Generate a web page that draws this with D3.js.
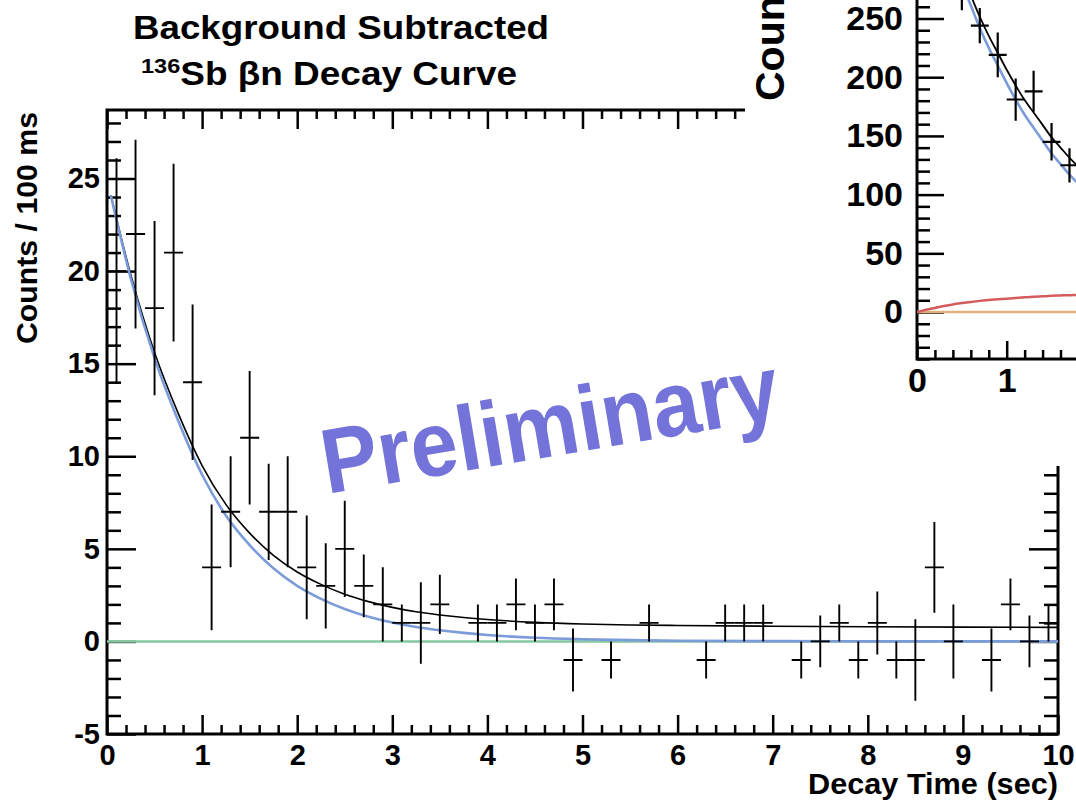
<!DOCTYPE html>
<meta charset="utf-8">
<style>
    body { margin: 0; background: #fff; }
    svg text { font-family: "Liberation Sans", Arial, Helvetica, sans-serif; font-weight: bold; fill: #000; }
    .axis path.domain { display: none; }
    .axis line { stroke: #000; stroke-width: 2.5px; }
    .axis text { font-size: 29px; }
    .inset .axis text { font-size: 34px; }
    .frame { fill: none; stroke: #000; stroke-width: 3px; }
    .err { stroke: #000; stroke-width: 1.9px; fill: none; }
    .fit { fill: none; }
</style>
<svg width="1076" height="800"></svg>
<script src="https://d3js.org/d3.v7.min.js"></script>
<script>

    // main histogram: background subtracted counts per 200 ms bin
    var binTime = [0.1, 0.3, 0.5, 0.7, 0.9, 1.1, 1.3, 1.5, 1.7, 1.9,
                   2.1, 2.3, 2.5, 2.7, 2.9, 3.1, 3.3, 3.5, 3.7, 3.9,
                   4.1, 4.3, 4.5, 4.7, 4.9, 5.1, 5.3, 5.5, 5.7, 5.9,
                   6.1, 6.3, 6.5, 6.7, 6.9, 7.1, 7.3, 7.5, 7.7, 7.9,
                   8.1, 8.3, 8.5, 8.7, 8.9, 9.1, 9.3, 9.5, 9.7, 9.9];
    var binCounts = [20, 22, 18, 21, 14, 4, 7, 11, 7, 7,
                     4, 3, 5, 3, 2, 1, 1, 2, 0, 1,
                     1, 2, 1, 2, -1, 0, -1, 0, 1, 0,
                     0, -1, 1, 1, 1, 0, -1, 0, 1, -1,
                     1, -1, -1, 4, 0, 0, -1, 2, 0, 1];
    var binErrors = [6.1, 5.1, 4.7, 4.8, 4.2, 3.4, 3.0, 3.6, 2.6, 3.0,
                     2.8, 2.3, 2.6, 1.7, 2.0, 1.0, 2.2, 1.6, 0, 1.0,
                     1.0, 1.4, 1.0, 1.4, 1.7, 0, 1.0, 0, 1.0, 0,
                     0, 1.0, 1.0, 1.0, 1.0, 0, 1.0, 1.4, 1.0, 1.0,
                     1.7, 1.0, 2.2, 2.45, 2.0, 0, 1.7, 1.4, 1.4, 1.0];

    // fit curves
    var fitTime = [0.04, 0.25, 0.5, 0.75, 1, 1.25, 1.5, 1.75, 2, 2.25, 2.5, 2.75, 3,
                   3.25, 3.5, 3.75, 4, 4.5, 5, 5.5, 6, 7, 8, 9, 10];
    var totalFit = [24.1, 19.8, 15.6, 12.3, 9.5, 7.4, 5.85, 4.65, 3.75, 3.08, 2.55, 2.15, 1.84,
                    1.6, 1.43, 1.29, 1.18, 1.03, 0.94, 0.89, 0.86, 0.82, 0.79, 0.77, 0.76];
    var parentFit = [24.1, 19.6, 15.3, 11.9, 9.0, 6.8, 5.2, 3.95, 3.0, 2.3, 1.75, 1.33, 1.02,
                     0.78, 0.6, 0.46, 0.35, 0.2, 0.12, 0.07, 0.04, 0.015, 0.005, 0.002, 0];
    var bgTime = [0, 10];
    var bgFit = [0, 0];

    var xMajor = [0, 1, 2, 3, 4, 5, 6, 7, 8, 9, 10];
    var yMajor = [-5, 0, 5, 10, 15, 20, 25];

    // inset (without subtraction)
    var insetTime = [0.5, 0.7, 0.9, 1.1, 1.3, 1.5, 1.7];
    var insetCounts = [277, 244, 219, 181, 188, 145, 125];
    var insetErrors = [20, 15, 19, 18, 17.5, 16, 14.6];
    var insetFitTime = [0, 0.1, 0.2, 0.3, 0.4, 0.5, 0.6, 0.7, 0.8, 0.9, 1.0,
                        1.1, 1.2, 1.3, 1.4, 1.5, 1.6, 1.7, 1.8, 1.9, 2.0];
    var insetTotal = [402, 375.9, 351.5, 329.1, 307.5, 287.6, 269.6, 251.5, 235.2, 220.8, 206.4,
                      193, 180.5, 170, 159.4, 148.8, 140.1, 131.4, 123.6, 115.8, 109];
    var insetParent = [402, 374, 348, 324, 301, 280, 261, 242, 225, 210, 195,
                       181, 168, 157, 146, 135, 126, 117, 109, 101, 94];
    var insetDaughter = [0, 1.9, 3.5, 5.1, 6.5, 7.6, 8.6, 9.5, 10.2, 10.8, 11.4,
                         12.0, 12.5, 13.0, 13.4, 13.8, 14.1, 14.4, 14.6, 14.8, 15.0];
    var insetBgTime = [0, 2];
    var insetBg = [0, 0];
    var insetXMajor = [0, 1, 2];
    var insetYMajor = [0, 50, 100, 150, 200, 250, 300];

    var svg = d3.select("svg");

    var x = d3.scaleLinear().domain([0, 10]).range([107, 1058]),
        y = d3.scaleLinear().domain([-5, 28.7]).range([734, 110]);

    var binW = 0.2;
    var plain = function(d) { return String(d); };   // ROOT style "-5", not a unicode minus

    svg.append("defs").append("clipPath").attr("id", "mainclip")
        .append("rect").attr("x", 107).attr("y", 110).attr("width", 951).attr("height", 624);

    // ---- main frame and axes
    function minorTicks(lo, hi, step, skip) {
        return d3.range(lo, hi + step / 2, step)
            .map(function(v) { return Math.round(v * 1000) / 1000; })
            .filter(function(v) { return skip.indexOf(v) < 0; });
    }
    var xMinor = minorTicks(0, 10, 0.2, xMajor),
        yMinor = minorTicks(-5, 28, 1, yMajor);

    var gx = svg.append("g").attr("class", "axis").attr("transform", "translate(0,734)");
    gx.call(d3.axisBottom(x).tickValues(xMajor).tickSize(-19).tickPadding(10).tickFormat(plain));
    gx.append("g").call(d3.axisBottom(x).tickValues(xMinor).tickSize(-9).tickFormat(""));

    var gxt = svg.append("g").attr("class", "axis").attr("transform", "translate(0,110)");
    gxt.call(d3.axisTop(x).tickValues(xMajor).tickSize(-19).tickFormat(""));
    gxt.append("g").call(d3.axisTop(x).tickValues(xMinor).tickSize(-9).tickFormat(""));

    var gy = svg.append("g").attr("class", "axis").attr("transform", "translate(107,0)");
    gy.call(d3.axisLeft(y).tickValues(yMajor).tickSize(-29).tickPadding(7).tickFormat(plain));
    gy.append("g").call(d3.axisLeft(y).tickValues(yMinor).tickSize(-14).tickFormat(""));

    var gyr = svg.append("g").attr("class", "axis").attr("transform", "translate(1058,0)");
    gyr.call(d3.axisRight(y).tickValues(yMajor).tickSize(-29).tickFormat(""));
    gyr.append("g").call(d3.axisRight(y).tickValues(yMinor).tickSize(-14).tickFormat(""));

    svg.append("rect").attr("class", "frame")
        .attr("x", 107).attr("y", 110).attr("width", 951).attr("height", 624);

    // ---- main fits
    var plot = svg.append("g").attr("clip-path", "url(#mainclip)");

    function curve(xs, sx, sy) {
        return d3.line()
            .x(function(d, i) { return sx(xs[i]); })
            .y(function(d) { return sy(d); })
            .curve(d3.curveMonotoneX);
    }

    plot.append("path").attr("class", "fit").attr("d", curve(bgTime, x, y)(bgFit))
        .style("stroke", "#84c8a2").style("stroke-width", 2.5);
    plot.append("path").attr("class", "fit").attr("d", curve(fitTime, x, y)(totalFit))
        .style("stroke", "#000").style("stroke-width", 1.6);
    plot.append("path").attr("class", "fit").attr("d", curve(fitTime, x, y)(parentFit))
        .style("stroke", "#7b9bd9").style("stroke-width", 2.6);

    // ---- main data points
    function errorBars(g, ts, vs, es, sx, sy) {
        var pts = ts.map(function(t, i) { return {t: t, v: vs[i], e: es[i]}; })
            .filter(function(d) { return d.e > 0 || d.v !== 0; });
        g.selectAll("path.err").data(pts).enter().append("path")
            .attr("class", "err")
            .attr("d", function(d) {
                return "M" + sx(d.t - binW / 2) + "," + sy(d.v) + "H" + sx(d.t + binW / 2) +
                    "M" + sx(d.t) + "," + sy(d.v - d.e) + "V" + sy(d.v + d.e);
            });
    }
    errorBars(plot, binTime, binCounts, binErrors, x, y);

    // ---- titles
    svg.append("text").attr("x", 133).attr("y", 39)
        .attr("textLength", 416).attr("lengthAdjust", "spacingAndGlyphs")
        .style("font-size", "33px").text("Background Subtracted");
    var t2 = svg.append("text").attr("x", 141).attr("y", 85)
        .attr("textLength", 376).attr("lengthAdjust", "spacingAndGlyphs")
        .style("font-size", "33px");
    t2.append("tspan").attr("dy", -12).style("font-size", "21px").text("136");
    t2.append("tspan").attr("dy", 12).text("Sb \u03b2n Decay Curve");

    svg.append("text").attr("text-anchor", "end")
        .attr("transform", "translate(37,112) rotate(-90)")
        .attr("textLength", 232).attr("lengthAdjust", "spacingAndGlyphs")
        .style("font-size", "29px").text("Counts / 100 ms");

    svg.append("text").attr("text-anchor", "end")
        .attr("x", 1058).attr("y", 794)
        .attr("textLength", 250).attr("lengthAdjust", "spacingAndGlyphs")
        .style("font-size", "29px").text("Decay Time (sec)");

    // ---- inset pad
    var inset = svg.append("g").attr("class", "inset");
    inset.append("rect").attr("x", 745).attr("y", 0).attr("width", 331).attr("height", 466)
        .style("fill", "#fff");

    var xi = d3.scaleLinear().domain([0, 2]).range([917, 1096.4]),
        yi = d3.scaleLinear().domain([-40, 300]).range([359, -40.2]);

    svg.select("defs").append("clipPath").attr("id", "insetclip")
        .append("rect").attr("x", 917).attr("y", -50).attr("width", 200).attr("height", 409);

    var xiMinor = minorTicks(0, 2, 0.2, insetXMajor),
        yiMinor = minorTicks(-40, 300, 10, insetYMajor);

    var gxi = inset.append("g").attr("class", "axis").attr("transform", "translate(0,359)");
    gxi.call(d3.axisBottom(xi).tickValues(insetXMajor).tickSize(-18).tickPadding(9).tickFormat(plain));
    gxi.append("g").call(d3.axisBottom(xi).tickValues(xiMinor).tickSize(-9).tickFormat(""));

    var gyi = inset.append("g").attr("class", "axis").attr("transform", "translate(917,0)");
    gyi.call(d3.axisLeft(yi).tickValues(insetYMajor).tickSize(-27).tickPadding(14).tickFormat(plain));
    gyi.append("g").call(d3.axisLeft(yi).tickValues(yiMinor).tickSize(-13).tickFormat(""));

    inset.append("path").attr("class", "frame").attr("d", "M917,-10V359H1080");

    var iplot = inset.append("g").attr("clip-path", "url(#insetclip)");
    iplot.append("path").attr("class", "fit").attr("d", curve(insetBgTime, xi, yi)(insetBg))
        .style("stroke", "#e2b27c").style("stroke-width", 2.5);
    iplot.append("path").attr("class", "fit").attr("d", curve(insetFitTime, xi, yi)(insetDaughter))
        .style("stroke", "#d45c5c").style("stroke-width", 2.5);
    iplot.append("path").attr("class", "fit").attr("d", curve(insetFitTime, xi, yi)(insetTotal))
        .style("stroke", "#000").style("stroke-width", 1.8);
    iplot.append("path").attr("class", "fit").attr("d", curve(insetFitTime, xi, yi)(insetParent))
        .style("stroke", "#7b9bd9").style("stroke-width", 2.6);
    errorBars(iplot, insetTime, insetCounts, insetErrors, xi, yi);
    iplot.selectAll("path.err").style("stroke-width", 2.2);

    inset.append("text").attr("transform", "translate(784,101) rotate(-90)")
        .style("font-size", "41px").text("Counts / 100 ms");

    // ---- watermark
    svg.append("text")
        .attr("transform", "translate(327,494) rotate(-9.5)")
        .attr("textLength", 462).attr("lengthAdjust", "spacingAndGlyphs")
        .style("font-size", "92px").style("fill", "#7373d9")
        .text("Preliminary");

</script>
